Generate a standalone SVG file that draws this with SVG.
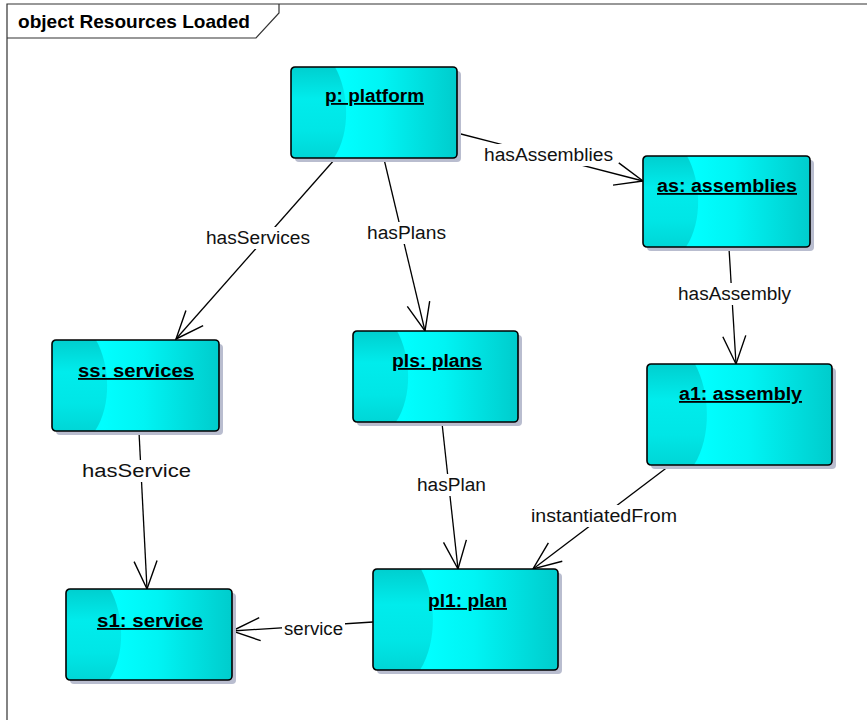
<svg xmlns="http://www.w3.org/2000/svg" width="867" height="723" viewBox="0 0 867 723">
<style>
.shadow{fill:#b9bdcf}
.body{fill:url(#gMain)}
.hl{fill:url(#gLeft)}
.outline{fill:none;stroke:#000;stroke-width:1.6}
.nlabel{font-family:"Liberation Sans",Arial,sans-serif;font-size:18px;font-weight:bold;text-decoration:underline;fill:#000}
.elabel{font-family:"Liberation Sans",Arial,sans-serif;font-size:18px;fill:#111}
.edge{stroke:#000;stroke-width:1.3;fill:none;marker-end:url(#arrow)}
.frame{fill:none;stroke:#333;stroke-width:1.2}
</style>
<defs>
<linearGradient id="gMain" x1="0" y1="0" x2="1" y2="0">
<stop offset="0" stop-color="#00f2f2"/>
<stop offset="0.3" stop-color="#00ffff"/>
<stop offset="0.55" stop-color="#00f4f4"/>
<stop offset="1" stop-color="#00cccc"/>
</linearGradient>
<linearGradient id="gLeft" x1="0" y1="0" x2="0" y2="1">
<stop offset="0" stop-color="#00cfcf"/>
<stop offset="0.35" stop-color="#00ecec"/>
<stop offset="0.7" stop-color="#00e6e6"/>
<stop offset="1" stop-color="#00d6d6"/>
</linearGradient>
<marker id="arrow" markerUnits="userSpaceOnUse" markerWidth="32" markerHeight="28" viewBox="-30 -14 32 28" refX="0" refY="0" orient="auto">
<path d="M-28,-11.5 L0,0 L-28,11.5" fill="none" stroke="#000" stroke-width="1.4"/>
</marker>
</defs>
<rect width="867" height="723" fill="#fff"/>
<g id="frame">
<path class="frame" d="M7,720 V4 H867"/>
<path class="frame" d="M7,38 H256 L279,13 V4"/>
<text x="18" y="28" font-family="'Liberation Sans',Arial,sans-serif" font-size="19" font-weight="bold" textLength="232" lengthAdjust="spacingAndGlyphs">object Resources Loaded</text>
</g>
<g id="connectors">
<line class="edge" x1="457" y1="133" x2="643" y2="181"/>
<line class="edge" x1="335" y1="159" x2="176" y2="339"/>
<line class="edge" x1="384" y1="159" x2="425" y2="331"/>
<line class="edge" x1="729" y1="248" x2="736" y2="364"/>
<line class="edge" x1="139" y1="432" x2="147" y2="589"/>
<line class="edge" x1="442" y1="423" x2="458" y2="569"/>
<line class="edge" x1="669" y1="466" x2="533" y2="569"/>
<line class="edge" x1="373" y1="622" x2="232" y2="631"/>
<g fill="#fff">
<rect x="482" y="144" width="133" height="22"/>
<rect x="204" y="227" width="108" height="22"/>
<rect x="365" y="222" width="83" height="22"/>
<rect x="676" y="283" width="117" height="22"/>
<rect x="80" y="460" width="113" height="22"/>
<rect x="415" y="474" width="73" height="22"/>
<rect x="529" y="505" width="150" height="22"/>
<rect x="282" y="618" width="63" height="22"/>
</g>
<text class="elabel" x="484" y="161" textLength="129" lengthAdjust="spacingAndGlyphs">hasAssemblies</text>
<text class="elabel" x="206" y="244" textLength="104" lengthAdjust="spacingAndGlyphs">hasServices</text>
<text class="elabel" x="367" y="239" textLength="79" lengthAdjust="spacingAndGlyphs">hasPlans</text>
<text class="elabel" x="678" y="300" textLength="113" lengthAdjust="spacingAndGlyphs">hasAssembly</text>
<text class="elabel" x="82" y="477" textLength="109" lengthAdjust="spacingAndGlyphs">hasService</text>
<text class="elabel" x="417" y="491" textLength="69" lengthAdjust="spacingAndGlyphs">hasPlan</text>
<text class="elabel" x="531" y="522" textLength="146" lengthAdjust="spacingAndGlyphs">instantiatedFrom</text>
<text class="elabel" x="284" y="635" textLength="59" lengthAdjust="spacingAndGlyphs">service</text>
</g>
<g id="node-p" transform="translate(291,67)">
<rect class="shadow" x="4" y="4" width="166" height="91" rx="4"/>
<rect class="body" width="166" height="91" rx="4"/>
<path class="hl" d="M4,0 H44 C58,25 60,65 43,91 H4 Q0,91 0,87 V4 Q0,0 4,0 Z"/>
<rect class="outline" width="166" height="91" rx="4"/>
<text class="nlabel" x="34" y="35" textLength="99" lengthAdjust="spacingAndGlyphs">p: platform</text>
</g>
<g id="node-as" transform="translate(643,156)">
<rect class="shadow" x="4" y="4" width="167" height="91" rx="4"/>
<rect class="body" width="167" height="91" rx="4"/>
<path class="hl" d="M4,0 H44 C58,25 60,65 43,91 H4 Q0,91 0,87 V4 Q0,0 4,0 Z"/>
<rect class="outline" width="167" height="91" rx="4"/>
<text class="nlabel" x="14" y="36" textLength="140" lengthAdjust="spacingAndGlyphs">as: assemblies</text>
</g>
<g id="node-ss" transform="translate(52,340)">
<rect class="shadow" x="4" y="4" width="167" height="91" rx="4"/>
<rect class="body" width="167" height="91" rx="4"/>
<path class="hl" d="M4,0 H44 C58,25 60,65 43,91 H4 Q0,91 0,87 V4 Q0,0 4,0 Z"/>
<rect class="outline" width="167" height="91" rx="4"/>
<text class="nlabel" x="26" y="37" textLength="116" lengthAdjust="spacingAndGlyphs">ss: services</text>
</g>
<g id="node-pls" transform="translate(353,331)">
<rect class="shadow" x="4" y="4" width="165" height="91" rx="4"/>
<rect class="body" width="165" height="91" rx="4"/>
<path class="hl" d="M4,0 H44 C58,25 60,65 43,91 H4 Q0,91 0,87 V4 Q0,0 4,0 Z"/>
<rect class="outline" width="165" height="91" rx="4"/>
<text class="nlabel" x="39" y="36" textLength="90" lengthAdjust="spacingAndGlyphs">pls: plans</text>
</g>
<g id="node-a1" transform="translate(647,364)">
<rect class="shadow" x="4" y="4" width="185" height="101" rx="4"/>
<rect class="body" width="185" height="101" rx="4"/>
<path class="hl" d="M4,0 H48 C63,28 65,72 47,101 H4 Q0,101 0,97 V4 Q0,0 4,0 Z"/>
<rect class="outline" width="185" height="101" rx="4"/>
<text class="nlabel" x="32" y="36" textLength="123" lengthAdjust="spacingAndGlyphs">a1: assembly</text>
</g>
<g id="node-pl1" transform="translate(373,569)">
<rect class="shadow" x="4" y="4" width="185" height="101" rx="4"/>
<rect class="body" width="185" height="101" rx="4"/>
<path class="hl" d="M4,0 H48 C63,28 65,72 47,101 H4 Q0,101 0,97 V4 Q0,0 4,0 Z"/>
<rect class="outline" width="185" height="101" rx="4"/>
<text class="nlabel" x="55" y="38" textLength="79" lengthAdjust="spacingAndGlyphs">pl1: plan</text>
</g>
<g id="node-s1" transform="translate(66,589)">
<rect class="shadow" x="4" y="4" width="166" height="91" rx="4"/>
<rect class="body" width="166" height="91" rx="4"/>
<path class="hl" d="M4,0 H44 C58,25 60,65 43,91 H4 Q0,91 0,87 V4 Q0,0 4,0 Z"/>
<rect class="outline" width="166" height="91" rx="4"/>
<text class="nlabel" x="31" y="38" textLength="106" lengthAdjust="spacingAndGlyphs">s1: service</text>
</g>
</svg>
